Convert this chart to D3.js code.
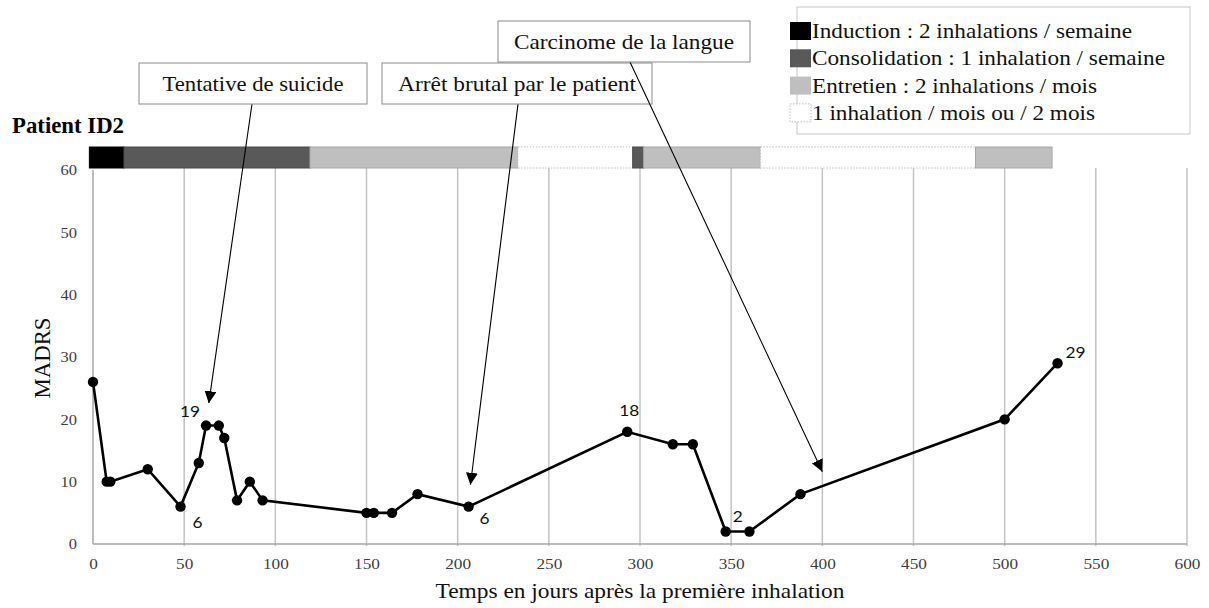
<!DOCTYPE html>
<html><head><meta charset="utf-8">
<script src="https://cdn.jsdelivr.net/npm/d3@7"></script>
<style>
body{margin:0;background:#fff;}
svg{display:block;}
</style></head>
<body>
<svg id="c" width="1209" height="608"></svg>
<script>
// ---- data ----
const days   = [0, 7.5, 9.5, 30, 48, 58, 62, 69, 72, 79, 86, 93, 150, 154, 164, 178, 206, 293, 318, 329, 347, 360, 388, 500, 529];
const madrs  = [26, 10, 10, 12, 6, 13, 19, 19, 17, 7, 10, 7, 5, 5, 5, 8, 6, 18, 16, 16, 2, 2, 8, 20, 29];
const labelledIdx = [6, 4, 16, 17, 20, 24];
const xTicks = [0, 50, 100, 150, 200, 250, 300, 350, 400, 450, 500, 550, 600];
const yTicks = [0, 10, 20, 30, 40, 50, 60];
const phaseStart = [-2, 17, 119, 233, 296, 302, 366, 484];
const phaseEnd   = [17, 119, 233, 296, 302, 366, 484, 526];
const phaseType  = [0, 1, 2, 3, 1, 2, 3, 2];
const legendLabels = ["Induction : 2 inhalations / semaine", "Consolidation : 1 inhalation / semaine", "Entretien : 2 inhalations / mois", "1 inhalation / mois ou / 2 mois"];
const annTexts = ["Tentative  de suicide", "Arrêt brutal par le patient", "Carcinome de la langue"];
const annDay   = [63.5, 207, 400];
const annVal   = [22.6, 9.5, 11.6];

// ---- layout ----
const svg = d3.select("#c");
const x = d3.scaleLinear().domain([0, 600]).range([93, 1187]);
const y = d3.scaleLinear().domain([0, 60]).range([544, 170]);
const serif = "'Liberation Serif', 'Times New Roman', serif";
const sans = "Lato, 'Open Sans', sans-serif";
const phaseFill = ["#000000", "#595959", "#bfbfbf", "#ffffff"];
const phaseStroke = ["#000000", "#4a4a4a", "#a8a8a8", "#bdbdbd"];

function fit(sel, w) { sel.attr("textLength", w).attr("lengthAdjust", "spacingAndGlyphs"); }
function stretch(sel, k) {
  sel.each(function(){ const w = this.getComputedTextLength(); this.setAttribute("textLength", w*k); this.setAttribute("lengthAdjust","spacingAndGlyphs"); });
}

// defs
const defs = svg.append("defs");
defs.append("marker").attr("id","arr").attr("viewBox","0 0 10 10").attr("refX",10).attr("refY",5)
  .attr("markerWidth",12).attr("markerHeight",12).attr("markerUnits","userSpaceOnUse").attr("orient","auto")
  .append("path").attr("d","M0,0 L10,5 L0,10 Z").attr("fill","#000");

// gridlines
svg.append("g").selectAll("line").data(xTicks.filter(d=>d>0)).join("line")
  .attr("x1", d=>x(d)).attr("x2", d=>x(d)).attr("y1", y(60)-2).attr("y2", y(0)+2)
  .attr("stroke", "#c3c3c3").attr("stroke-width", 1.5);

// axes lines
svg.append("line").attr("x1", x(0)).attr("x2", x(0)).attr("y1", y(60)).attr("y2", y(0)).attr("stroke","#a6a6a6").attr("stroke-width",1.5);
svg.append("line").attr("x1", x(0)).attr("x2", x(600)).attr("y1", y(0)).attr("y2", y(0)).attr("stroke","#a6a6a6").attr("stroke-width",1.5);

// axes via d3
const xAxis = svg.append("g").attr("transform", `translate(0,${y(0)})`)
  .call(d3.axisBottom(x).tickValues(xTicks).tickSize(0).tickPadding(14));
xAxis.select(".domain").remove();
xAxis.selectAll("text").attr("font-family", serif).attr("font-size", 15).attr("fill", "#404040");
stretch(xAxis.selectAll("text"), 1.15);
const yAxis = svg.append("g").attr("transform", `translate(${x(0)},0)`)
  .call(d3.axisLeft(y).tickValues(yTicks).tickSize(0).tickPadding(16));
yAxis.select(".domain").remove();
yAxis.selectAll("text").attr("font-family", serif).attr("font-size", 15).attr("fill", "#404040");
stretch(yAxis.selectAll("text"), 1.1);

// axis titles
fit(svg.append("text").attr("x", 640).attr("y", 598).attr("text-anchor","middle")
  .attr("font-family", serif).attr("font-size", 22).attr("fill","#111").text("Temps en jours après la première inhalation"), 409);
fit(svg.append("text").attr("transform","translate(50,358) rotate(-90)").attr("text-anchor","middle")
  .attr("font-family", serif).attr("font-size", 23).attr("fill","#111").text("MADRS"), 81);

// title
fit(svg.append("text").attr("x", 12).attr("y", 133).attr("font-family", serif).attr("font-weight","bold")
  .attr("font-size", 23).attr("fill","#000").text("Patient ID2"), 112);

// phase bar
svg.append("g").selectAll("rect").data(phaseStart.map((s,i)=>({s, e: phaseEnd[i], t: phaseType[i]}))).join("rect")
  .attr("x", d=>x(d.s)).attr("width", d=>x(d.e)-x(d.s)).attr("y", 147).attr("height", 21)
  .attr("fill", d=>phaseFill[d.t]).attr("stroke", d=>phaseStroke[d.t]).attr("stroke-width", 1)
  .attr("stroke-dasharray", d=>d.t===3 ? "1.5,1.5" : null);

// line + points
const pts = days.map((d,i)=>({d, v: madrs[i], i}));
svg.append("path").datum(pts).attr("fill","none").attr("stroke","#000").attr("stroke-width",2.6)
  .attr("d", d3.line().x(p=>x(p.d)).y(p=>y(p.v)));
svg.append("g").selectAll("circle").data(pts).join("circle")
  .attr("cx", p=>x(p.d)).attr("cy", p=>y(p.v)).attr("r", 5.2).attr("fill","#000");

// data labels
const lblOff = {6:[-16,-13], 4:[17,17], 16:[16,13], 17:[2,-20], 20:[12,-14], 24:[18,-9]};
const dl = svg.append("g").selectAll("text").data(labelledIdx).join("text")
  .attr("x", i=>x(days[i])+lblOff[i][0]).attr("y", i=>y(madrs[i])+lblOff[i][1])
  .attr("text-anchor","middle").attr("dominant-baseline","middle")
  .attr("font-family", sans).attr("font-size", 16).attr("fill","#111").text(i=>madrs[i]);
stretch(dl, 1.08);

// annotations
const annBox = [[139,63,228,41],[382,63,270,41],[498,21,252,41]];
const annFrom = [[252,104],[518,104],[630,62]];
const annW = [181, 238, 220];
annTexts.forEach((t,i)=>{
  const [bx,by,bw,bh] = annBox[i];
  svg.append("line").attr("x1", annFrom[i][0]).attr("y1", annFrom[i][1])
    .attr("x2", x(annDay[i])).attr("y2", y(annVal[i])).attr("stroke","#000").attr("stroke-width",1.1)
    .attr("marker-end","url(#arr)");
  svg.append("rect").attr("x",bx).attr("y",by).attr("width",bw).attr("height",bh)
    .attr("fill","#fff").attr("stroke","#8c8c8c").attr("stroke-width",1);
  fit(svg.append("text").attr("x", bx+bw/2).attr("y", by+bh/2+7).attr("text-anchor","middle")
    .attr("font-family", serif).attr("font-size", 21).attr("fill","#111").text(t), annW[i]);
});

// legend
svg.append("rect").attr("x",797).attr("y",7).attr("width",393).attr("height",127)
  .attr("fill","#fff").attr("stroke","#c8c8c8").attr("stroke-width",1);
const legW = [320, 353, 285, 283];
const lg = svg.append("g").selectAll("g").data(legendLabels).join("g")
  .attr("transform",(d,i)=>`translate(790,${31 + i*27.3})`);
lg.append("rect").attr("x",0).attr("y",-9).attr("width",21).attr("height",18)
  .attr("fill",(d,i)=>phaseFill[i]).attr("stroke",(d,i)=>i===3?"#bdbdbd":"none")
  .attr("stroke-dasharray",(d,i)=>i===3?"1.5,1.5":null);
lg.append("text").attr("x",22).attr("y",7)
  .attr("font-family", serif).attr("font-size", 21).attr("fill","#111").text(d=>d)
  .attr("textLength",(d,i)=>legW[i]).attr("lengthAdjust","spacingAndGlyphs");
</script>
</body></html>
